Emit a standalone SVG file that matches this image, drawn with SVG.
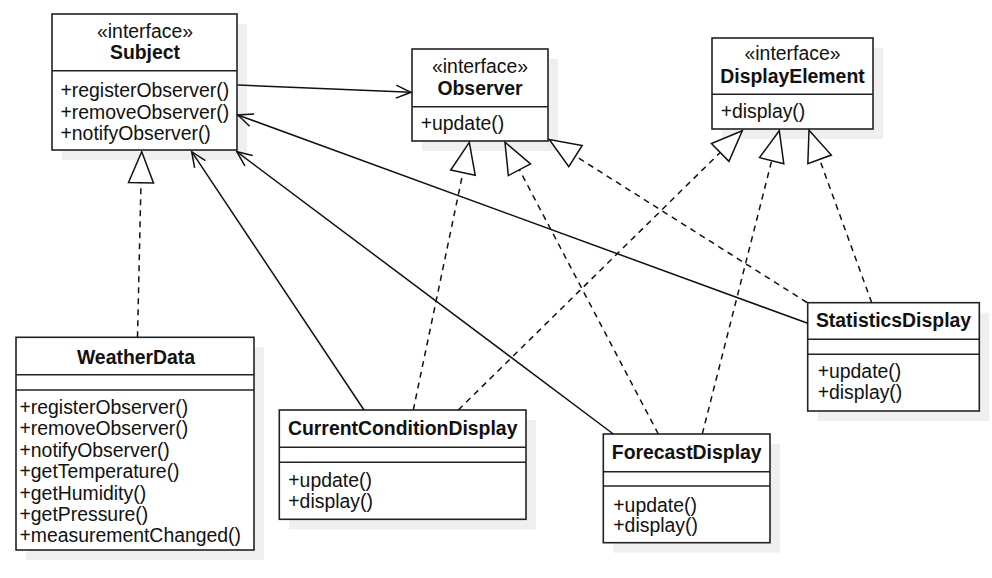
<svg xmlns="http://www.w3.org/2000/svg" width="992" height="578" viewBox="0 0 992 578">
<style>
.shadow{fill:#efefef;stroke:none}
.box{fill:#fff;stroke:#222;stroke-width:1.6}
.div{stroke:#222;stroke-width:1.6;fill:none}
text{font-family:"Liberation Sans",Arial,sans-serif;font-size:19.4px;fill:#111}
.t{font-weight:bold;text-anchor:middle}
.st{text-anchor:middle}
.ln{fill:none;stroke:#111;stroke-width:1.5}
.dash{stroke-dasharray:6 5}
.assoc{marker-end:url(#open)}
.real{marker-end:url(#tri)}
</style>
<defs>
<marker id="tri" markerUnits="userSpaceOnUse" viewBox="-2 -15 36 30" markerWidth="36" markerHeight="30" refX="32" refY="0" orient="auto">
<path d="M32 0 L1 -12.5 L1 12.5 Z" fill="#fff" stroke="#111" stroke-width="1.5" stroke-linejoin="miter"/>
</marker>
<marker id="open" markerUnits="userSpaceOnUse" viewBox="-2 -9 20 18" markerWidth="20" markerHeight="18" refX="16" refY="0" orient="auto">
<path d="M1 -6.5 L16 0 L1 6.5" fill="none" stroke="#111" stroke-width="1.5"/>
</marker>
</defs>
<rect width="992" height="578" fill="#fff"/>

<g id="subject">
<rect class="shadow" x="62" y="24" width="185" height="136"/>
<rect class="box" x="52" y="14" width="185" height="136"/>
<line class="div" x1="52" y1="70.7" x2="237" y2="70.7"/>
<text class="st" x="145" y="38.3">«interface»</text>
<text class="t" x="145" y="58.5">Subject</text>
<text x="60.5" y="97">+registerObserver()</text>
<text x="60.5" y="118.7">+removeObserver()</text>
<text x="60.5" y="140.4">+notifyObserver()</text>
</g>

<g id="observer">
<rect class="shadow" x="422" y="59" width="136" height="92"/>
<rect class="box" x="412" y="49" width="136" height="92"/>
<line class="div" x1="412" y1="106.7" x2="548" y2="106.7"/>
<text class="st" x="480" y="73.3">«interface»</text>
<text class="t" x="480" y="95">Observer</text>
<text x="420.7" y="129.5">+update()</text>
</g>

<g id="displayelement">
<rect class="shadow" x="722" y="48" width="161" height="91"/>
<rect class="box" x="712" y="38" width="161" height="91"/>
<line class="div" x1="712" y1="94.3" x2="873" y2="94.3"/>
<text class="st" x="792.5" y="60">«interface»</text>
<text class="t" x="792.5" y="83.3">DisplayElement</text>
<text x="720.7" y="118.3">+display()</text>
</g>

<g id="weatherdata">
<rect class="shadow" x="26" y="347.3" width="238" height="212.7"/>
<rect class="box" x="16" y="337.3" width="238" height="212.7"/>
<line class="div" x1="16" y1="374.7" x2="254" y2="374.7"/>
<line class="div" x1="16" y1="390" x2="254" y2="390"/>
<text class="t" x="136" y="364.3">WeatherData</text>
<text x="19.5" y="414">+registerObserver()</text>
<text x="19.5" y="435.4">+removeObserver()</text>
<text x="19.5" y="456.8">+notifyObserver()</text>
<text x="19.5" y="478.2">+getTemperature()</text>
<text x="19.5" y="499.6">+getHumidity()</text>
<text x="19.5" y="521">+getPressure()</text>
<text x="19.5" y="542.4">+measurementChanged()</text>
</g>

<g id="currentconditiondisplay">
<rect class="shadow" x="289.3" y="420" width="246.7" height="109.3"/>
<rect class="box" x="279.3" y="410" width="246.7" height="109.3"/>
<line class="div" x1="279.3" y1="447.3" x2="526" y2="447.3"/>
<line class="div" x1="279.3" y1="462.3" x2="526" y2="462.3"/>
<text class="t" x="402.7" y="434.5">CurrentConditionDisplay</text>
<text x="288.3" y="486.7">+update()</text>
<text x="288.3" y="507.5">+display()</text>
</g>

<g id="forecastdisplay">
<rect class="shadow" x="613.3" y="444" width="166.7" height="108.7"/>
<rect class="box" x="603.3" y="434" width="166.7" height="108.7"/>
<line class="div" x1="603.3" y1="471.7" x2="770" y2="471.7"/>
<line class="div" x1="603.3" y1="486" x2="770" y2="486"/>
<text class="t" x="686.7" y="459.3">ForecastDisplay</text>
<text x="613.3" y="511.7">+update()</text>
<text x="613.3" y="532">+display()</text>
</g>

<g id="statisticsdisplay">
<rect class="shadow" x="817.7" y="312.7" width="171.6" height="108.3"/>
<rect class="box" x="807.7" y="302.7" width="171.6" height="108.3"/>
<line class="div" x1="807.7" y1="339.3" x2="979.3" y2="339.3"/>
<line class="div" x1="807.7" y1="354.3" x2="979.3" y2="354.3"/>
<text class="t" x="893.5" y="327.3">StatisticsDisplay</text>
<text x="817.7" y="378.3">+update()</text>
<text x="817.7" y="398.5">+display()</text>
</g>

<g id="connectors">
<path class="ln assoc" d="M237.8 85 L411 92.3"/>
<path class="ln assoc" d="M364 410 L191.7 151.7"/>
<path class="ln assoc" d="M613.3 434 L236.8 151.7"/>
<path class="ln assoc" d="M807.7 323.3 L237.8 115"/>
<path class="ln dash real" d="M137.5 337.3 L141.7 151.7"/>
<path class="ln dash real" d="M413.3 410 L469.3 142.3"/>
<path class="ln dash real" d="M658.3 434 L505 142.3"/>
<path class="ln dash real" d="M807 302.5 L549.3 139.5"/>
<path class="ln dash real" d="M458.3 410 L742.3 130.7"/>
<path class="ln dash real" d="M702.3 434 L779.3 130.7"/>
<path class="ln dash real" d="M871.7 302.7 L809 130.2"/>
</g>
</svg>
